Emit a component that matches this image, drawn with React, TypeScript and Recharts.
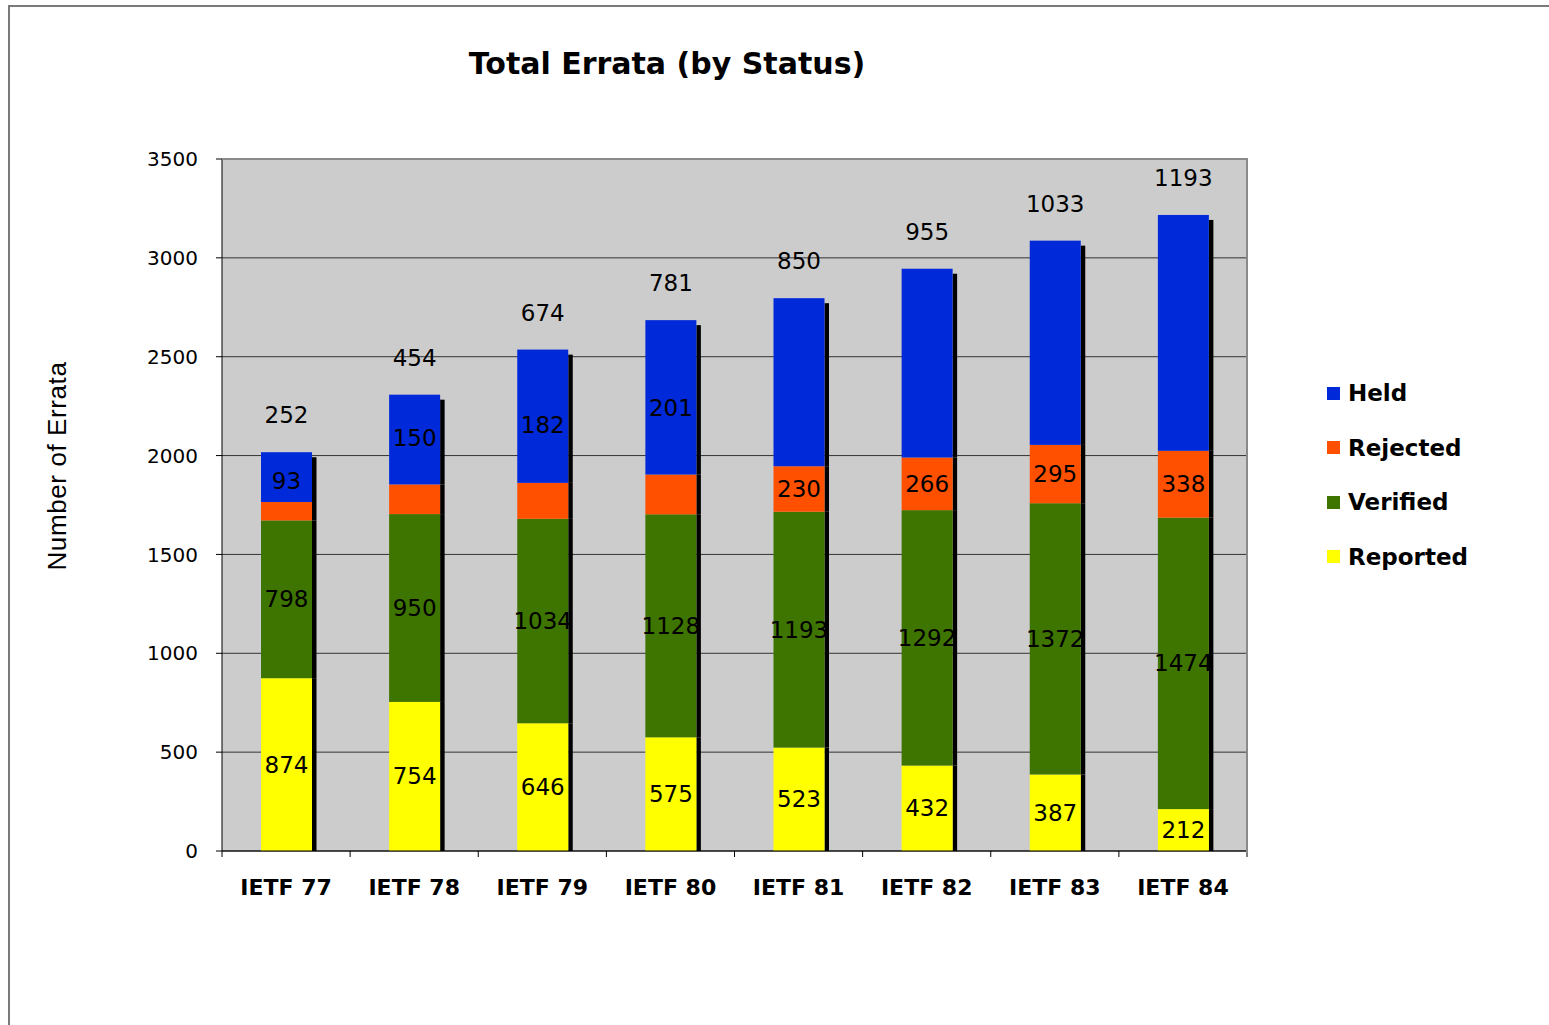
import { Bar, BarChart, CartesianGrid, LabelList, XAxis, YAxis } from "recharts";

const meetings = ["IETF 77", "IETF 78", "IETF 79", "IETF 80", "IETF 81", "IETF 82", "IETF 83", "IETF 84"];
const reported = [874, 754, 646, 575, 523, 432, 387, 212];
const verified = [798, 950, 1034, 1128, 1193, 1292, 1372, 1474];
const rejected = [93, 150, 182, 201, 230, 266, 295, 338];
const held = [252, 454, 674, 781, 850, 955, 1033, 1193];
const yTicks = [0, 500, 1000, 1500, 2000, 2500, 3000, 3500];

// Excel moved a few rejected labels up by hand; px lift per bar
const rejectedLabelLift = [30, 61, 76, 86, 0, 0, 0, 0];

const W = 1549;
const H = 1025;
const PLOT = { left: 222, top: 159, right: 1247, bottom: 851 };
const BAND = (PLOT.right - PLOT.left) / meetings.length;

const FONT = "'DejaVu Sans', Verdana, sans-serif";

const COLORS = {
  held: "#0029d9",
  rejected: "#ff5000",
  verified: "#3e7400",
  reported: "#ffff00",
};

const data = meetings.map((m, i) => ({
  name: m,
  reported: reported[i],
  verified: verified[i],
  rejected: rejected[i],
  held: held[i],
}));

function makeShape(isTop: boolean) {
  return (props: any) => {
    const { x, y, width, height, fill } = props;
    if (!height || height <= 0) return <g />;
    const sy = isTop ? y + 5 : y;
    return (
      <g>
        <rect x={x + width} y={sy} width={4.5} height={y + height - sy} fill="#000" />
        <rect x={x} y={y} width={width} height={height} fill={fill} />
      </g>
    );
  };
}

function XTick(props: any) {
  const { x, y, payload, index } = props;
  const left = x - BAND / 2;
  return (
    <g>
      <line x1={left} y1={y - 6} x2={left} y2={y} stroke="#000" />
      {index === meetings.length - 1 && (
        <line x1={x + BAND / 2} y1={y - 6} x2={x + BAND / 2} y2={y} stroke="#000" />
      )}
      <text
        x={x}
        y={y + 30}
        textAnchor="middle"
        dominantBaseline="central"
        fontFamily={FONT}
        fontWeight="bold"
        fontSize={22}
        fill="#000"
      >
        {payload.value}
      </text>
    </g>
  );
}

function centerLabel(lift?: number[]) {
  return (props: any) => {
    const { x, y, width, height, value, index } = props;
    const dy = lift ? lift[index] || 0 : 0;
    return (
      <text
        x={x + width / 2}
        y={y + height / 2 - dy}
        textAnchor="middle"
        dominantBaseline="central"
        fontFamily={FONT}
        fontSize={23}
        fill="#000"
      >
        {value}
      </text>
    );
  };
}

function topLabel(props: any) {
  const { x, y, width, value } = props;
  return (
    <text
      x={x + width / 2}
      y={y - 37}
      textAnchor="middle"
      dominantBaseline="central"
      fontFamily={FONT}
      fontSize={23}
      fill="#000"
    >
      {value}
    </text>
  );
}

const legendItems = [
  { label: "Held", color: COLORS.held },
  { label: "Rejected", color: COLORS.rejected },
  { label: "Verified", color: COLORS.verified },
  { label: "Reported", color: COLORS.reported },
];

export default function App() {
  return (
    <div style={{ position: "absolute", left: 0, top: 0, width: W, height: H, background: "#fff", overflow: "hidden" }}>
      <div
        style={{
          position: "absolute",
          left: 8,
          top: 5,
          width: W,
          height: H,
          borderTop: "2px solid #7a7a7a",
          borderLeft: "2px solid #7a7a7a",
        }}
      />
      <div
        style={{
          position: "absolute",
          left: 0,
          width: 1334,
          top: 46,
          textAlign: "center",
          fontFamily: FONT,
          fontWeight: "bold",
          fontSize: 30,
          color: "#000",
        }}
      >
        Total Errata (by Status)
      </div>
      <div
        style={{
          position: "absolute",
          left: 57,
          top: 466,
          transform: "translate(-50%, -50%) rotate(-90deg)",
          whiteSpace: "nowrap",
          fontFamily: "'Liberation Sans', Arial, sans-serif",
          fontSize: 26,
          letterSpacing: 0.6,
          color: "#000",
        }}
      >
        Number of Errata
      </div>
      <div style={{ position: "absolute", left: 0, top: 0 }}>
        <BarChart
          width={W}
          height={H}
          data={data}
          margin={{ top: PLOT.top, right: W - PLOT.right, bottom: H - PLOT.bottom - 60, left: PLOT.left - 60 }}
        >
          <CartesianGrid vertical={false} stroke="#333" fill="#cccccc" />
          <XAxis dataKey="name" height={60} tickLine={false} tickSize={6} tickMargin={0} axisLine={{ stroke: "#000" }} tick={<XTick />} interval={0} />
          <YAxis
            width={60}
            domain={[0, 3500]}
            ticks={yTicks}
            interval={0}
            tickSize={6}
            tickMargin={18}
            axisLine={{ stroke: "#000" }}
            tickLine={{ stroke: "#000" }}
            tick={{ fontFamily: FONT, fontSize: 20, fill: "#000" }}
          />
          <Bar dataKey="reported" stackId="s" fill={COLORS.reported} barSize={51} shape={makeShape(false)} isAnimationActive={false}>
            <LabelList dataKey="reported" content={centerLabel()} />
          </Bar>
          <Bar dataKey="verified" stackId="s" fill={COLORS.verified} barSize={51} shape={makeShape(false)} isAnimationActive={false}>
            <LabelList dataKey="verified" content={centerLabel()} />
          </Bar>
          <Bar dataKey="rejected" stackId="s" fill={COLORS.rejected} barSize={51} shape={makeShape(false)} isAnimationActive={false}>
            <LabelList dataKey="rejected" content={centerLabel(rejectedLabelLift)} />
          </Bar>
          <Bar dataKey="held" stackId="s" fill={COLORS.held} barSize={51} shape={makeShape(true)} isAnimationActive={false}>
            <LabelList dataKey="held" content={topLabel} />
          </Bar>
        </BarChart>
      </div>
      <div
        style={{
          position: "absolute",
          left: PLOT.left,
          top: PLOT.top - 1,
          width: PLOT.right - PLOT.left - 1,
          height: PLOT.bottom - PLOT.top + 1,
          borderTop: "2px solid #8a8a8a",
          borderRight: "2px solid #8a8a8a",
          pointerEvents: "none",
        }}
      />
      <div style={{ position: "absolute", left: 1327, top: 366, fontFamily: FONT }}>
        {legendItems.map((it) => (
          <div key={it.label} style={{ display: "flex", alignItems: "center", height: 54.5 }}>
            <span style={{ width: 13, height: 13, background: it.color, marginRight: 8 }} />
            <span style={{ fontWeight: "bold", fontSize: 23, color: "#000" }}>{it.label}</span>
          </div>
        ))}
      </div>
    </div>
  );
}
